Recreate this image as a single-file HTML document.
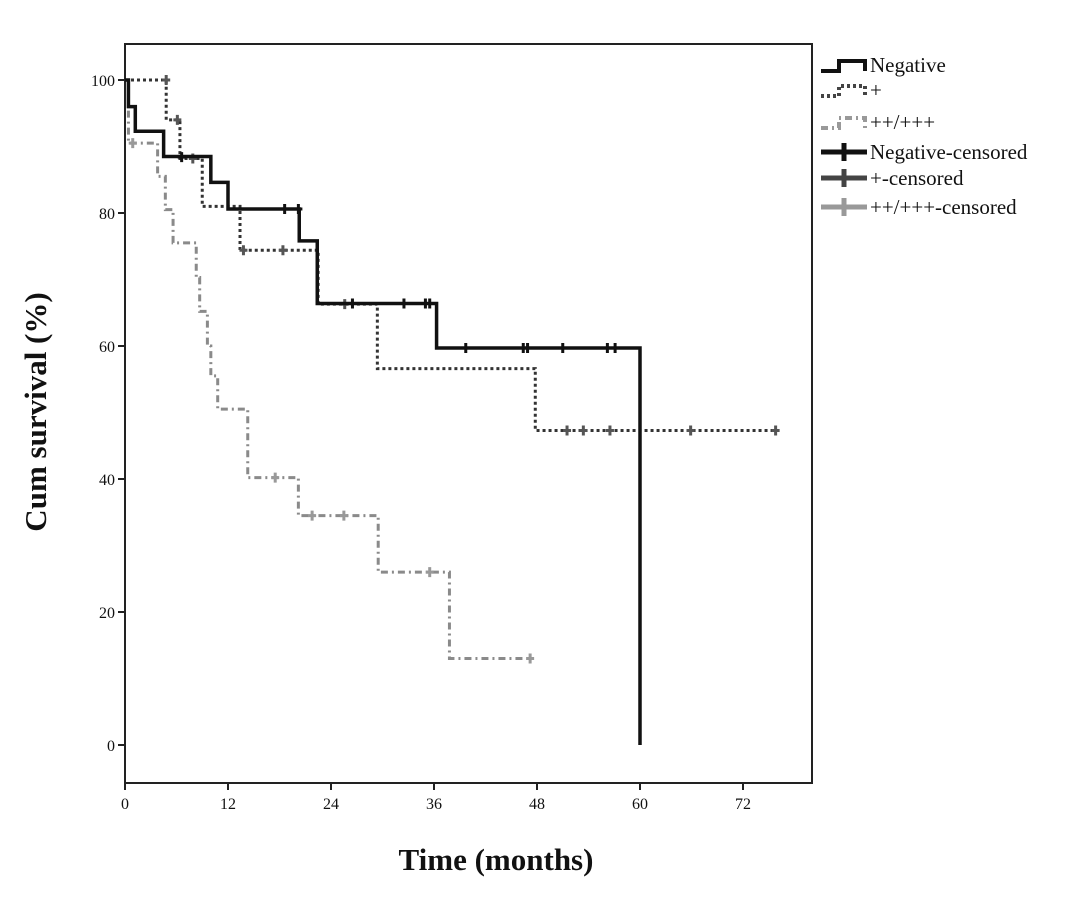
<!DOCTYPE html>
<html><head><meta charset="utf-8"><style>
body{margin:0;background:#fff;width:1087px;height:893px;overflow:hidden}
svg text{font-family:"Liberation Serif",serif}
</style></head><body>
<svg id="chart" width="1087" height="893" viewBox="0 0 1087 893" xmlns="http://www.w3.org/2000/svg">
<rect x="125" y="44" width="687" height="739" fill="none" stroke="#222" stroke-width="2"/>
<g id="axes"></g>
<g id="series"></g>
<text transform="translate(46,412) rotate(-90)" text-anchor="middle" font-size="31" font-weight="bold" fill="#111">Cum survival (%)</text>
<text x="496" y="870" text-anchor="middle" font-size="31" font-weight="bold" fill="#111">Time (months)</text>
<g id="legend"></g>
</svg>
<script>
const xTicks=[0,12,24,36,48,60,72];
const yTicks=[0,20,40,60,80,100];
const negTimes=[0,0.4,1.2,4.5,10,12,20.3,22.4,36.3,60];
const negVals=[100,96,92.3,88.5,84.6,80.6,75.8,66.4,59.7,0];
const negCensT=[6.6,18.6,20.2,26.5,32.5,35,35.5,39.7,46.4,46.9,51,56.2,57.1];
const negCensV=[88.4,80.6,80.6,66.4,66.4,66.4,66.4,59.7,59.7,59.7,59.7,59.7,59.7];
const posTimes=[0,4.8,6.4,9,13.4,22.5,29.4,47.8];
const posVals=[100,94,88.2,81,74.4,66.3,56.6,47.3];
const posEnd=75.8;
const posCensT=[4.8,6.1,7.9,13.8,18.4,25.6,51.5,53.4,56.5,65.9,75.8];
const posCensV=[100,94,88.2,74.4,74.4,66.3,47.3,47.3,47.3,47.3,47.3];
const hiTimes=[0,0.4,3.8,4.7,5.6,8.3,8.7,9.6,10,10.8,14.3,20.2,29.5,37.8];
const hiVals=[100,90.5,85.5,80.5,75.5,70.3,65.2,60,55.5,50.5,40.2,34.5,26,13];
const hiEnd=47.2;
const hiCensT=[0.9,17.5,21.8,25.5,35.5,47.2];
const hiCensV=[90.5,40.2,34.5,34.5,26,13];
const X=m=>125+m*(103/12);
const Y=v=>745-v*6.65;
const NS="http://www.w3.org/2000/svg";
function mk(tag,attrs,parent){const e=document.createElementNS(NS,tag);for(const k in attrs)e.setAttribute(k,attrs[k]);parent.appendChild(e);return e;}
const axes=document.getElementById('axes');
xTicks.forEach(t=>{
 const l=mk('line',{x1:X(t),x2:X(t),y1:783,y2:790,stroke:'#222','stroke-width':2},axes);
 
 
 const tx=mk('text',{x:X(t),y:809,'text-anchor':'middle','font-size':16,fill:'#111'},axes);
 tx.textContent=t;
 
 
});
yTicks.forEach(t=>{
 const l=mk('line',{x1:118,x2:125,y1:Y(t),y2:Y(t),stroke:'#222','stroke-width':2},axes);
 
 
 const tx=mk('text',{x:115,y:Y(t)+6,'text-anchor':'end','font-size':16,fill:'#111'},axes);
 tx.textContent=t;
 
 
});
function stepPath(ts,vs,end){
 let d='M'+X(ts[0])+','+Y(vs[0]);
 for(let i=1;i<ts.length;i++){d+=' H'+X(ts[i])+' V'+Y(vs[i]);}
 if(end!==undefined)d+=' H'+X(end);
 return d;
}
const g=document.getElementById('series');
function series(name,ts,vs,end,stroke,w,dash,cT,cV,cCol){
 const p=mk('path',{d:stepPath(ts,vs,end),fill:'none',stroke:stroke,'stroke-width':w,'stroke-dasharray':dash},g);
 
 
 cT.forEach((t,i)=>{
  const c=mk('path',{d:`M${X(t)-4},${Y(cV[i])} h8 M${X(t)},${Y(cV[i])-5} v10`,stroke:cCol,'stroke-width':3},g);
  
  
 });
}
series('plus',posTimes,posVals,posEnd,'#333',3,'3,3',posCensT,posCensV,'#555');
series('high',hiTimes,hiVals,hiEnd,'#8a8a8a',3,'7,4,2,4',hiCensT,hiCensV,'#999');
series('negative',negTimes,negVals,undefined,'#111',3.5,'none',negCensT,negCensV,'#111');
const lg=document.getElementById('legend');
const rows=[
 ['Negative',65,'line','#111','none'],
 ['+',90,'line','#444','3,3'],
 ['++/+++',122,'line','#999','7,4,2,4'],
 ['Negative-censored',152,'cens','#111'],
 ['+-censored',178,'cens','#444'],
 ['++/+++-censored',207,'cens','#999']];
rows.forEach(r=>{
 const [label,y,type,col,dash]=r;
 if(type==='line'){
  const p=mk('path',{d:`M821,${y+6} h18 v-10 h26 v10`,fill:'none',stroke:col,'stroke-width':4,'stroke-dasharray':dash},lg);
  
  
 } else {
  const p=mk('path',{d:`M821,${y} h46 M844,${y-9} v18`,stroke:col,'stroke-width':5},lg);
  
  
 }
 const t=mk('text',{x:870,y:y+7,'font-size':21,fill:'#111'},lg);
 t.textContent=label;
 
 
});
</script>
</body></html>
